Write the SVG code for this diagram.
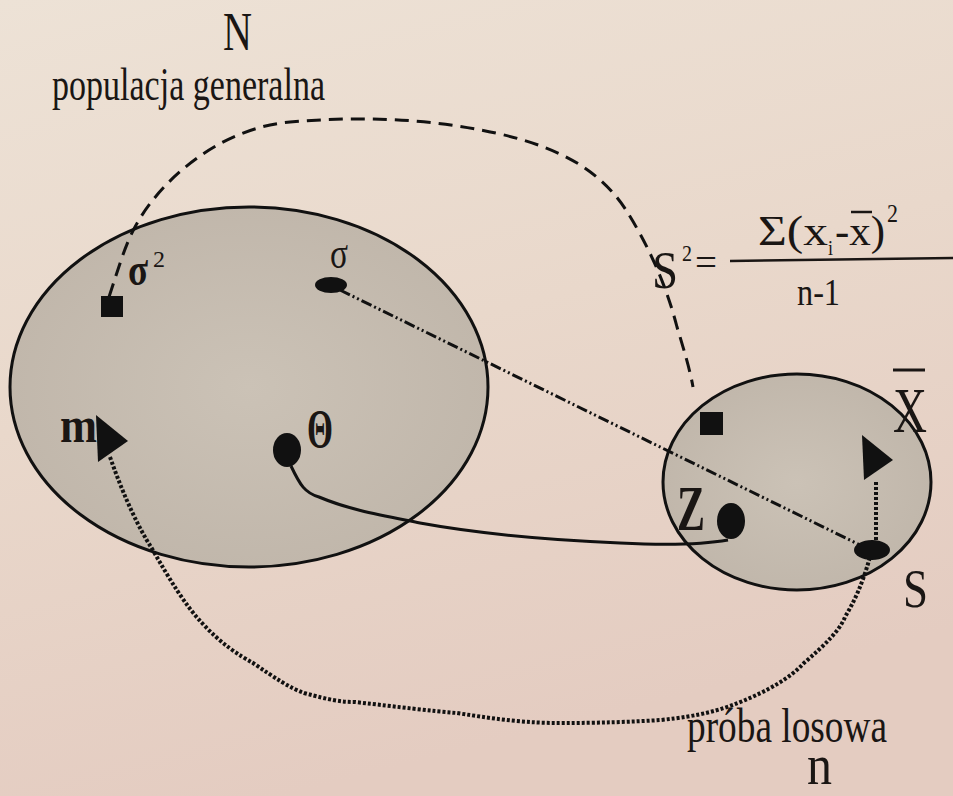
<svg xmlns="http://www.w3.org/2000/svg" width="953" height="796" viewBox="0 0 953 796">
<defs>
<linearGradient id="bg" x1="0" y1="0" x2="0.3" y2="1">
<stop offset="0" stop-color="#ede2d6"/>
<stop offset="0.5" stop-color="#e9d8cb"/>
<stop offset="1" stop-color="#e4ccc1"/>
</linearGradient>
<radialGradient id="fillA" cx="0.5" cy="0.5" r="0.6">
<stop offset="0" stop-color="#cbc2b6"/>
<stop offset="1" stop-color="#bfb5a9"/>
</radialGradient>
</defs>
<style>
.t{font-family:"Liberation Serif","Times New Roman",serif;fill:#1a1614}
.b{font-weight:bold}
.ell{stroke:#111;stroke-width:3;fill:url(#fillA)}
.dash{fill:none;stroke:#111;stroke-width:3;stroke-dasharray:14 8}
.dot{fill:none;stroke:#111;stroke-width:4;stroke-dasharray:3 2}
.dd{fill:none;stroke:#111;stroke-width:3;stroke-dasharray:11 3 2 3 2 3}
.sol{fill:none;stroke:#111;stroke-width:3}
.mk{fill:#111}
</style>
<rect width="953" height="796" fill="url(#bg)"/>

<g id="populacja">
<ellipse class="ell" cx="249" cy="387" rx="239" ry="180"/>
</g>
<g id="proba">
<ellipse class="ell" cx="797" cy="482" rx="134" ry="108"/>
</g>

<g id="connectors">
<path class="dash" d="M109,297 C118,270 125,245 135,227 C160,180 220,128 290,122 C360,116 430,118 500,134 C560,148 600,170 626,210 C645,240 665,280 677,327 C684,350 690,370 693,387"/>
<path class="dd" d="M340,290 L860,545"/>
<path class="sol" d="M291,466 C300,485 305,493 319,497 C350,510 380,515 420,523 C480,534 550,540 620,543 C660,545 700,545 728,540"/>
<path class="dot" d="M110,457 C125,500 140,530 151,547 C170,580 185,605 202,623 C220,643 240,656 253,663 C275,678 290,688 304,693 C330,700 340,702 355,702 C400,707 430,711 457,713 C500,720 530,723 559,723 C600,723 630,722 661,720 C700,716 720,710 738,703 C770,690 790,678 804,663 C825,645 840,630 845,617 C855,600 862,585 870,557"/>
<path class="dot" d="M876,482 L876,543"/>
</g>

<g id="sigma2">
<rect class="mk" x="101" y="296" width="22" height="21"/>
<text class="t b" x="128" y="285" font-size="46" textLength="20" lengthAdjust="spacingAndGlyphs">σ</text>
<text class="t" x="153" y="267" font-size="24" textLength="12" lengthAdjust="spacingAndGlyphs">2</text>
</g>
<g id="sigma">
<ellipse class="mk" cx="331" cy="285" rx="16" ry="8"/>
<text class="t" x="330" y="268" font-size="44" textLength="18" lengthAdjust="spacingAndGlyphs">σ</text>
</g>
<g id="m">
<polygon class="mk" points="96,415 128,441 98,462"/>
<text class="t b" x="60" y="442" font-size="50" textLength="37" lengthAdjust="spacingAndGlyphs">m</text>
</g>
<g id="theta">
<ellipse class="mk" cx="287" cy="450" rx="14" ry="17"/>
<text class="t b" x="307" y="447" font-size="55" textLength="26" lengthAdjust="spacingAndGlyphs">Θ</text>
</g>

<g id="s2node">
<rect class="mk" x="700" y="412" width="23" height="23"/>
</g>
<g id="xbar">
<polygon class="mk" points="862,435 893,460 864,480"/>
<text class="t" x="893" y="432" font-size="64" textLength="34" lengthAdjust="spacingAndGlyphs">X</text>
<line x1="893" y1="370" x2="925" y2="370" stroke="#1a1614" stroke-width="3"/>
</g>
<g id="z">
<ellipse class="mk" cx="731" cy="521" rx="14" ry="18"/>
<text class="t b" x="677" y="530" font-size="63" textLength="28" lengthAdjust="spacingAndGlyphs">Z</text>
</g>
<g id="s">
<ellipse class="mk" cx="872" cy="550" rx="18" ry="10"/>
<text class="t" x="903" y="607" font-size="54" textLength="25" lengthAdjust="spacingAndGlyphs">S</text>
</g>

<g id="labels">
<text class="t" x="223" y="50" font-size="54" textLength="29" lengthAdjust="spacingAndGlyphs">N</text>
<text class="t" x="52" y="100" font-size="46" textLength="273" lengthAdjust="spacingAndGlyphs">populacja generalna</text>
<text class="t" x="687" y="742" font-size="48" textLength="200" lengthAdjust="spacingAndGlyphs">próba losowa</text>
<text class="t" x="807" y="784" font-size="56" textLength="25" lengthAdjust="spacingAndGlyphs">n</text>
</g>

<g id="formula">
<text class="t" x="652" y="288" font-size="52" textLength="26" lengthAdjust="spacingAndGlyphs">S</text>
<text class="t" x="682" y="261" font-size="24" textLength="10" lengthAdjust="spacingAndGlyphs">2</text>
<text class="t" x="695" y="276" font-size="40" textLength="22" lengthAdjust="spacingAndGlyphs">=</text>
<text class="t" x="758" y="245" font-size="42" textLength="70" lengthAdjust="spacingAndGlyphs">Σ(x</text>
<text class="t" x="828" y="255" font-size="22" textLength="5" lengthAdjust="spacingAndGlyphs">i</text>
<text class="t" x="835" y="245" font-size="42" textLength="50" lengthAdjust="spacingAndGlyphs">-x)</text>
<line x1="851" y1="212" x2="872" y2="212" stroke="#1a1614" stroke-width="2.5"/>
<text class="t" x="887" y="222" font-size="26" textLength="11" lengthAdjust="spacingAndGlyphs">2</text>
<line x1="730" y1="261" x2="953" y2="258" stroke="#1a1614" stroke-width="2.5"/>
<text class="t" x="797" y="305" font-size="38" textLength="43" lengthAdjust="spacingAndGlyphs">n-1</text>
</g>
</svg>
